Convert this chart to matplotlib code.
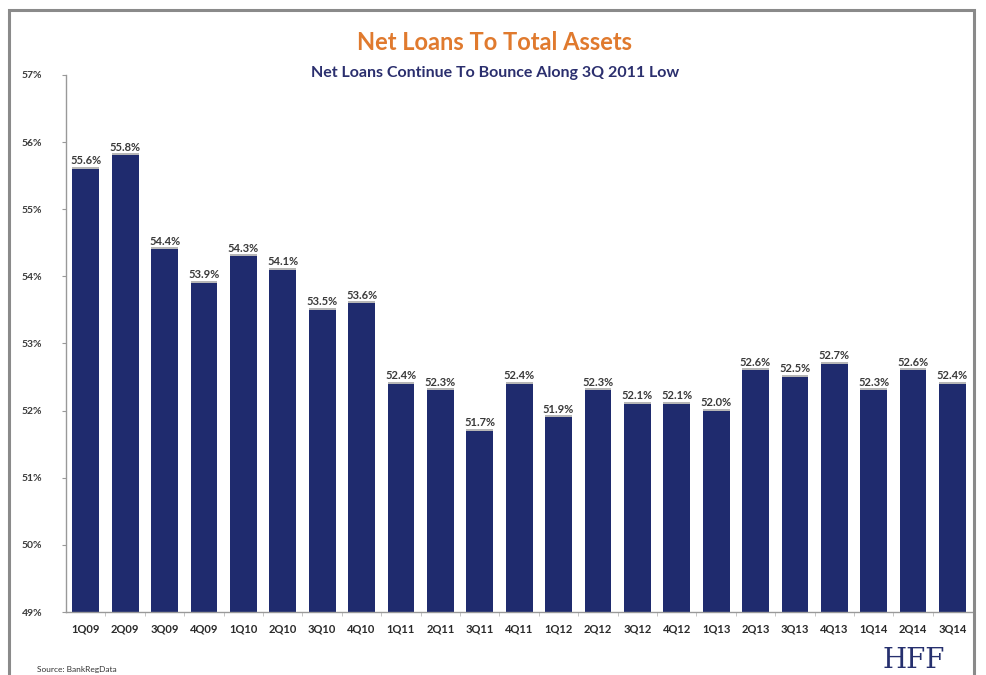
import matplotlib.pyplot as plt
from matplotlib.patches import Rectangle
import matplotlib.patheffects as pe

quarters = ['1Q09', '2Q09', '3Q09', '4Q09', '1Q10', '2Q10', '3Q10', '4Q10',
            '1Q11', '2Q11', '3Q11', '4Q11', '1Q12', '2Q12', '3Q12', '4Q12',
            '1Q13', '2Q13', '3Q13', '4Q13', '1Q14', '2Q14', '3Q14']
ratios = [55.6, 55.8, 54.4, 53.9, 54.3, 54.1, 53.5, 53.6, 52.4, 52.3, 51.7, 52.4,
          51.9, 52.3, 52.1, 52.1, 52.0, 52.6, 52.5, 52.7, 52.3, 52.6, 52.4]
y_ticks = [49, 50, 51, 52, 53, 54, 55, 56, 57]

navy = '#1f2b6e'
plt.rcParams['font.family'] = ['Lato', 'DejaVu Sans']

fig = plt.figure(figsize=(9.86, 6.75), dpi=100)
ax = fig.add_axes([0.067, 0.0933, 0.919, 0.7957])

# gray frame around the whole chart
fig.patches.append(Rectangle((0.009, -0.05), 0.979, 1.035, transform=fig.transFigure,
                             fill=False, edgecolor='#8a8a8a', linewidth=2.2))

x = range(len(quarters))
ax.bar(x, ratios, width=0.68, color=navy,
       path_effects=[pe.SimplePatchShadow(offset=(0, 1.5), shadow_rgbFace='#b0b0b0', alpha=0.9),
                     pe.Normal()])
for i, v in enumerate(ratios):
    ax.text(i, v + 0.04, f'{v:.1f}%', ha='center', va='bottom', fontsize=8,
            fontweight='bold', color='#3a3a3a')

ax.set_ylim(49, 57)
ax.set_xlim(-0.5, len(quarters) - 0.5)
ax.set_yticks(y_ticks)
ax.set_yticklabels([f'{t}%' for t in y_ticks], fontsize=7.5, fontweight='bold', color='#3a3a3a')
ax.set_xticks(list(x))
ax.set_xticklabels(quarters, fontsize=8, fontweight='bold', color='#2a2a2a')
ax.tick_params(axis='x', length=0, pad=8)
ax.tick_params(axis='y', length=3, color='#999999', pad=14)
ax.set_xticks([i + 0.5 for i in range(len(quarters) - 1)], minor=True)
ax.tick_params(axis='x', which='minor', length=3, color='#bbbbbb')
for s in ['top', 'right']:
    ax.spines[s].set_visible(False)
for s in ['left', 'bottom']:
    ax.spines[s].set_color('#999999')
    ax.spines[s].set_linewidth(1)

fig.text(0.502, 0.937, 'Net Loans To Total Assets', ha='center', va='center',
         fontsize=17, fontweight='bold', color='#e07a2e')
fig.text(0.502, 0.892, 'Net Loans Continue To Bounce Along 3Q 2011 Low', ha='center',
         va='center', fontsize=11.5, fontweight='bold', color='#2b2f6e')
fig.text(0.038, 0.008, 'Source: BankRegData', ha='left', va='center', fontsize=6,
         color='#333333')
fig.text(0.895, 0.002, 'HFF', ha='left', va='bottom', fontsize=20,
         family='DejaVu Serif', color='#26306e')

fig.savefig('out.png', dpi=100)
